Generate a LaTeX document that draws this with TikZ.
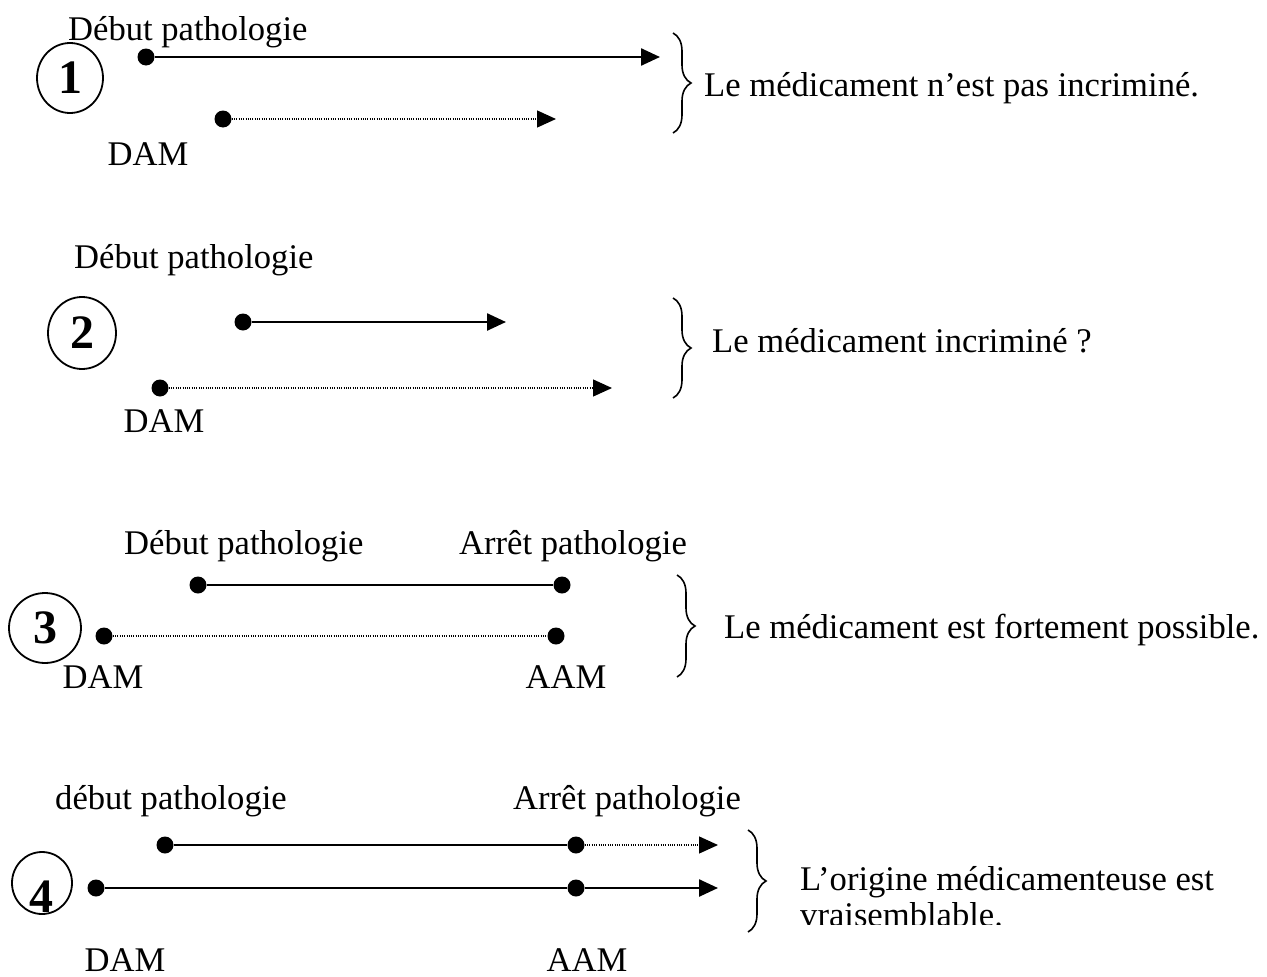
\documentclass[tikz,border=0pt]{standalone}
\usepackage{fontspec}
\setmainfont{Liberation Serif}
\usetikzlibrary{arrows.meta,shapes.geometric,decorations.pathreplacing}
\begin{document}
\begin{tikzpicture}[x=1pt,y=-1pt,
  lbl/.style={font=\fontsize{34.6}{40}\selectfont, inner sep=0pt},
  dot/.style={circle, fill=black, minimum size=17pt, inner sep=0pt},
  numc/.style={draw, ellipse, line width=1.8pt, inner sep=0pt, font=\fontsize{48}{52}\selectfont\bfseries},
  numt/.style={inner sep=0pt, font=\fontsize{48}{52}\selectfont\bfseries},
  solidln/.style={line width=2.5pt},
  dotln/.style={line width=1.3pt, dash pattern=on 1pt off 1.3pt},
  tip/.style={-{Triangle[length=19pt,width=17pt]}},
  bracestyle/.style={decorate, decoration={brace, amplitude=18pt}, line width=1.6pt}
]
\useasboundingbox (0,0) rectangle (1267,977);

% ---------- Panel 1 ----------
\node[numc, minimum width=66pt, minimum height=70pt] (c1) at (70,78) {1};
\node[lbl, anchor=base west] (p1lbl) at (68,40) {Début pathologie};
\node[dot] (p1a) at (146,57) {};
\coordinate (p1aE) at (660,57);
\node[dot] (p1b) at (223,119) {};
\coordinate (p1bE) at (556,119);
\node[lbl, anchor=base] (p1dam) at (148,165) {DAM};
\draw[solidln, tip] (p1a) -- (p1aE);
\draw[dotln, tip] (p1b) -- (p1bE);
\coordinate (b1t) at (673,33);
\coordinate (b1b) at (673,133);
\draw[bracestyle] (b1t) -- (b1b);
\node[lbl, anchor=base west] (t1) at (704,96) {Le médicament n’est pas incriminé.};

% ---------- Panel 2 ----------
\node[numc, minimum width=68pt, minimum height=72pt] (c2) at (82,333) {2};
\node[lbl, anchor=base west] (p2lbl) at (74,268) {Début pathologie};
\node[dot] (p2a) at (243,322) {};
\coordinate (p2aE) at (506,322);
\node[dot] (p2b) at (160,388) {};
\coordinate (p2bE) at (612,388);
\node[lbl, anchor=base] (p2dam) at (164,432) {DAM};
\draw[solidln, tip] (p2a) -- (p2aE);
\draw[dotln, tip] (p2b) -- (p2bE);
\coordinate (b2t) at (673,298);
\coordinate (b2b) at (673,398);
\draw[bracestyle] (b2t) -- (b2b);
\node[lbl, anchor=base west] (t2) at (712,352) {Le médicament incriminé ?};

% ---------- Panel 3 ----------
\node[numc, minimum width=72pt, minimum height=70pt] (c3) at (45,628) {3};
\node[lbl, anchor=base west] (p3lbl) at (124,554) {Début pathologie};
\node[lbl, anchor=base west] (p3arr) at (459,554) {Arrêt pathologie};
\node[dot] (p3a) at (198,585) {};
\node[dot] (p3aE) at (562,585) {};
\node[dot] (p3b) at (104,636) {};
\node[dot] (p3bE) at (556,636) {};
\node[lbl, anchor=base] (p3dam) at (103,688) {DAM};
\node[lbl, anchor=base] (p3aam) at (566,688) {AAM};
\draw[solidln] (p3a) -- (p3aE);
\draw[dotln] (p3b) -- (p3bE);
\coordinate (b3t) at (677,575);
\coordinate (b3b) at (677,677);
\draw[bracestyle] (b3t) -- (b3b);
\node[lbl, anchor=base west] (t3) at (724,638) {Le médicament est fortement possible.};

% ---------- Panel 4 ----------
\node[draw, ellipse, line width=1.8pt, minimum width=60pt, minimum height=62pt, inner sep=0pt] (c4) at (42,883) {};
\node[numt] (n4) at (41,897) {4};
\node[lbl, anchor=base west] (p4lbl) at (55,809) {début pathologie};
\node[lbl, anchor=base west] (p4arr) at (513,809) {Arrêt pathologie};
\node[dot] (p4a) at (165,845) {};
\node[dot] (p4am) at (576,845) {};
\coordinate (p4aE) at (718,845);
\node[dot] (p4b) at (96,888) {};
\node[dot] (p4bm) at (576,888) {};
\coordinate (p4bE) at (718,888);
\node[lbl, anchor=base] (p4dam) at (125,971) {DAM};
\node[lbl, anchor=base] (p4aam) at (587,971) {AAM};
\draw[solidln] (p4a) -- (p4am);
\draw[dotln, tip] (p4am) -- (p4aE);
\draw[solidln] (p4b) -- (p4bm);
\draw[solidln, tip] (p4bm) -- (p4bE);
\coordinate (b4t) at (748,830);
\coordinate (b4b) at (748,932);
\draw[bracestyle] (b4t) -- (b4b);
\node[lbl, anchor=base west] (t4a) at (800,890) {L’origine médicamenteuse est};
\begin{scope}
\clip (790,890) rectangle (1267,924);
\node[lbl, anchor=base west] (t4b) at (800,926) {vraisemblable.};
\end{scope}
\end{tikzpicture}
\end{document}
